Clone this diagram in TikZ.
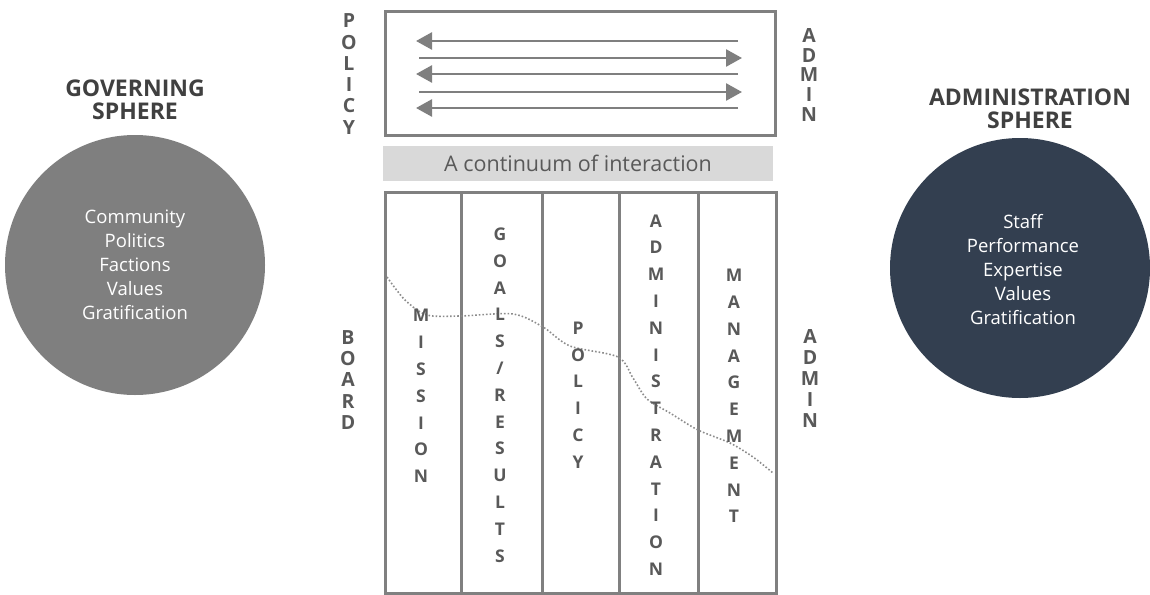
\documentclass[tikz,border=0pt]{standalone}
\usepackage{fontspec}
\setmainfont{Open Sans}
\usetikzlibrary{arrows.meta}
\definecolor{frame}{HTML}{808080}
\definecolor{ink}{HTML}{595959}
\definecolor{headink}{HTML}{404040}
\definecolor{bar}{HTML}{D9D9D9}
\definecolor{govfill}{HTML}{7F7F7F}
\definecolor{admfill}{HTML}{333F50}
\definecolor{flow}{HTML}{7F7F7F}
\definecolor{curve}{HTML}{8C8C8C}
\tikzset{
  panel/.style={draw=frame, line width=3pt},
  colletters/.style={text=ink, font=\fontsize{17.5}{26.8}\selectfont\bfseries, align=center, inner sep=0pt},
  sideletters/.style={text=ink, font=\fontsize{19.5}{21.3}\selectfont\bfseries, align=center, inner sep=0pt},
  sphere/.style={circle, minimum size=260pt, inner sep=0pt, draw=none},
  spheretext/.style={text=white, font=\fontsize{18.5}{24}\selectfont, align=center},
  spheretitle/.style={text=headink, font=\fontsize{23}{23.5}\selectfont\bfseries, align=center},
  flowarrow/.style={draw=flow, line width=2.6pt, -{Triangle[length=16pt,width=17pt]}},
}
\begin{document}
\begin{tikzpicture}[x=1pt, y=-1pt]
\useasboundingbox (0,0) rectangle (1150,594);

% spheres
\node[sphere, fill=govfill] (gov) at (135,265) {};
\node[spheretext] (govtxt) at (135,265) {Community\\Politics\\Factions\\Values\\Gratification};
\node[spheretitle] (govtitle) at (135,100) {GOVERNING\\SPHERE};

\node[sphere, fill=admfill] (adm) at (1020,268) {};
\node[spheretext] (admtxt) at (1023,270) {Staff\\Performance\\Expertise\\Values\\Gratification};
\node[spheretitle] (admtitle) at (1030,109) {ADMINISTRATION\\SPHERE};

% interaction box with arrows
\draw[panel] (385,12) rectangle (775,135);
\coordinate (l1) at (416,41);  \coordinate (r1) at (738,41);
\coordinate (l2) at (419,58);  \coordinate (r2) at (742,58);
\coordinate (l3) at (416,74);  \coordinate (r3) at (738,74);
\coordinate (l4) at (419,92);  \coordinate (r4) at (742,92);
\coordinate (l5) at (416,108); \coordinate (r5) at (738,108);
\draw[flowarrow] (r1) -- (l1);
\draw[flowarrow] (l2) -- (r2);
\draw[flowarrow] (r3) -- (l3);
\draw[flowarrow] (l4) -- (r4);
\draw[flowarrow] (r5) -- (l5);

% continuum bar
\node[fill=bar, minimum width=390pt, minimum height=35pt, inner sep=0pt,
      text=ink, font=\fontsize{21.5}{24}\selectfont] (bar) at (578,163.5) {A continuum of interaction};

% columns
\draw[panel] (385,192) rectangle (776,593);
\foreach \x in {461,542,619,698} \draw[panel] (\x,192) -- (\x,593);

% dotted boundary between board and admin roles
\draw[curve, line width=1.6pt, dotted] plot[smooth, tension=0.5] coordinates {
  (387,277) (405,300) (427,315) (460,316) (513,314) (543,327) (570,346)
  (618,357) (633,378) (647,399) (670,413) (698,430) (730,443) (753,457) (773,473)};

\node[colletters] (c1) at (421,396) {M\\I\\S\\S\\I\\O\\N};
\node[colletters] (c2) at (500,395) {G\\O\\A\\L\\S\\/\\R\\E\\S\\U\\L\\T\\S};
\node[colletters] (c3) at (578,395) {P\\O\\L\\I\\C\\Y};
\node[colletters] (c4) at (656,395) {A\\D\\M\\I\\N\\I\\S\\T\\R\\A\\T\\I\\O\\N};
\node[colletters] (c5) at (734,396) {M\\A\\N\\A\\G\\E\\M\\E\\N\\T};

% side labels
\node[sideletters] (policy) at (349,74) {P\\O\\L\\I\\C\\Y};
\node[sideletters, font=\fontsize{19.5}{19.6}\selectfont\bfseries] (admintop) at (809,75) {A\\D\\M\\I\\N};
\node[sideletters] (board) at (348,380) {B\\O\\A\\R\\D};
\node[sideletters, font=\fontsize{19.5}{21}\selectfont\bfseries] (adminlow) at (810,379) {A\\D\\M\\I\\N};
\end{tikzpicture}
\end{document}
